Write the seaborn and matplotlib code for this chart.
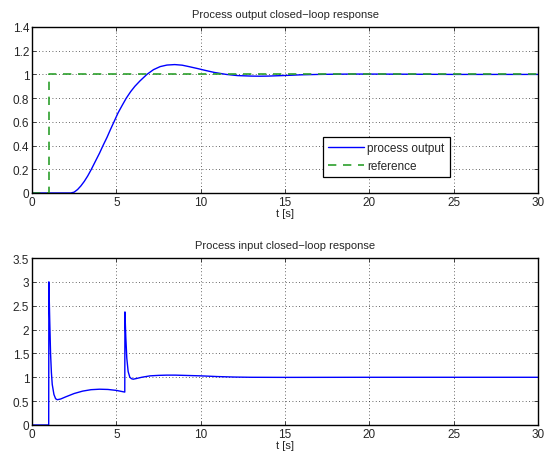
import numpy as np
import pandas as pd
import matplotlib
matplotlib.use("Agg")
import matplotlib.pyplot as plt
import seaborn as sns

# Process output
t_out = [0, 2.3, 2.5, 2.7, 2.9, 3.1, 3.3, 3.52, 3.75, 4.0, 4.21, 4.45, 4.65, 4.86,
         5.1, 5.35, 5.59, 5.85, 6.1, 6.4, 6.81, 7.2, 7.6, 8.0, 8.46, 8.9, 9.3, 9.8,
         10.3, 10.8, 11.52, 12.2, 13.0, 13.5, 14.0, 15.0, 16.0, 17.0, 18.0, 19.0,
         20.0, 22.0, 25.0, 30.0]
y_out = [0, 0, 0.007, 0.029, 0.06, 0.098, 0.143, 0.2, 0.265, 0.335, 0.4, 0.47, 0.535, 0.6,
         0.675, 0.74, 0.8, 0.855, 0.9, 0.945, 1.0, 1.04, 1.066, 1.079, 1.083, 1.078, 1.066, 1.05,
         1.033, 1.017, 1.0, 0.99, 0.986, 0.985, 0.986, 0.991, 0.997, 1.0, 1.002, 1.003,
         1.003, 1.002, 1.0, 1.0]

# Reference
t_ref = [0, 1.0, 1.0, 30.0]
y_ref = [0, 0, 1.0, 1.0]

# Process input
t_in = [0, 0.99, 1.0, 1.05, 1.1, 1.15, 1.2, 1.3, 1.4, 1.5, 1.7, 2.0, 2.5, 3.0, 3.5,
        4.0, 4.5, 5.0, 5.5, 5.51, 5.56, 5.62, 5.7, 5.8, 5.9, 6.0, 6.2, 6.5, 7.0,
        7.5, 8.0, 8.5, 9.0, 10.0, 11.0, 12.0, 13.0, 15.0, 20.0, 30.0]
y_in = [0, 0, 3.0, 2.2, 1.5, 1.1, 0.85, 0.64, 0.55, 0.53, 0.545, 0.59, 0.66, 0.71, 0.74,
        0.75, 0.745, 0.725, 0.69, 2.37, 1.85, 1.4, 1.12, 1.0, 0.97, 0.96, 0.975, 1.0, 1.03,
        1.04, 1.045, 1.045, 1.04, 1.03, 1.015, 1.005, 1.0, 0.998, 1.0, 1.0]

sns.set_style("white")
plt.rcParams['font.family'] = ['Liberation Sans', 'DejaVu Sans']

fig = plt.figure(figsize=(5.48, 4.56), dpi=100)
ax1 = fig.add_axes([0.0584, 0.5746, 0.9234, 0.364])
ax2 = fig.add_axes([0.0584, 0.0658, 0.9234, 0.3662])

df_out = pd.DataFrame({"t": t_out, "y": y_out})
df_ref = pd.DataFrame({"t": t_ref, "y": y_ref})
df_in = pd.DataFrame({"t": t_in, "y": y_in})

sns.lineplot(data=df_out, x="t", y="y", ax=ax1, color="#0000ff", lw=1.0,
             label="process output", sort=False, estimator=None)
sns.lineplot(data=df_ref, x="t", y="y", ax=ax1, color="#2ca02c", lw=1.2,
             linestyle=(0, (5, 4)), label="reference", sort=False, estimator=None)
sns.lineplot(data=df_in, x="t", y="y", ax=ax2, color="#0000ff", lw=1.0,
             sort=False, estimator=None)

for ax, ymax, yt, ylab, title in [
    (ax1, 1.4, np.arange(0, 1.41, 0.2), ["0", "0.2", "0.4", "0.6", "0.8", "1", "1.2", "1.4"],
     "Process output closed\u2212loop response"),
    (ax2, 3.5, np.arange(0, 3.51, 0.5), ["0", "0.5", "1", "1.5", "2", "2.5", "3", "3.5"],
     "Process input closed\u2212loop response"),
]:
    ax.set_xlim(0, 30)
    ax.set_ylim(0, ymax)
    ax.set_xticks([0, 5, 10, 15, 20, 25, 30])
    ax.set_xticklabels(["0", "5", "10", "15", "20", "25", "30"])
    ax.set_yticks(yt)
    ax.set_yticklabels(ylab)
    ax.grid(True, linestyle=(0, (1, 3)), color="black", lw=0.6, alpha=0.8)
    ax.tick_params(direction="in", length=3, labelsize=8.5, top=True, right=True,
                   bottom=True, left=True, pad=2, width=0.6)
    for s in ax.spines.values():
        s.set_visible(True)
        s.set_color("black")
        s.set_linewidth(1.0)
    ax.set_xlabel("t [s]", fontsize=8, labelpad=0)
    ax.set_ylabel("")
    ax.set_title(title, fontsize=8, pad=7)

leg = ax1.legend(loc="lower right", bbox_to_anchor=(0.826, 0.096), fontsize=8.5,
                 frameon=True, fancybox=False, edgecolor="black", framealpha=1,
                 handlelength=3.0, borderpad=0.45, labelspacing=0.5, handletextpad=0.3,
                 borderaxespad=0)
leg.get_frame().set_linewidth(0.9)

fig.savefig("out.png", dpi=100)
